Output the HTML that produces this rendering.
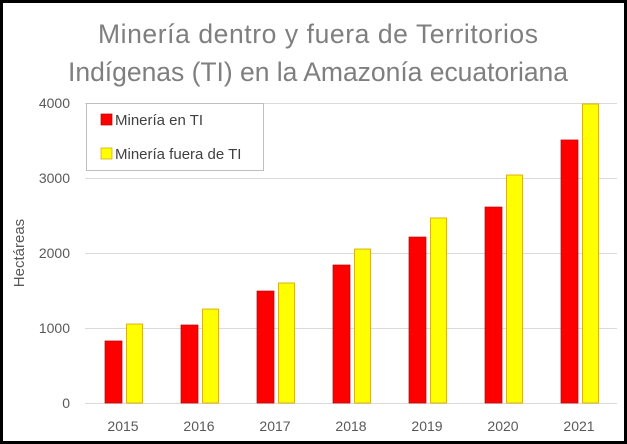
<!DOCTYPE html>
<html><head><meta charset="utf-8"><style>
body{margin:0;background:#fff}
svg{display:block;font-family:"Liberation Sans",sans-serif}
</style></head><body>
<svg id="c" width="627" height="444">
<rect x="1.5" y="1.5" width="624" height="441" fill="#fff" stroke="#000" stroke-width="3"/>
<text x="318" y="43" text-anchor="middle" font-size="26.5" fill="#7f7f7f" textLength="440">Minería dentro y fuera de Territorios</text>
<text x="318" y="81" text-anchor="middle" font-size="26.5" fill="#7f7f7f" textLength="500">Indígenas (TI) en la Amazonía ecuatoriana</text>
<text transform="translate(24,253) rotate(-90)" text-anchor="middle" font-size="15" fill="#595959">Hectáreas</text>
<g id="grid"></g><g id="bars"></g>
<g>
<rect x="86.5" y="103.5" width="177" height="67" fill="#fff" stroke="#bfbfbf"/>
<rect x="101" y="114" width="11" height="11" fill="#ff0000" stroke="#c00000" stroke-width="0.7"/>
<text x="115" y="125" font-size="15" fill="#404040">Minería en TI</text>
<rect x="101" y="148" width="11" height="11" fill="#ffff00" stroke="#d4a000" stroke-width="0.7"/>
<text x="115" y="159" font-size="15" fill="#404040">Minería fuera de TI</text>
</g>
</svg>
<script>
const years=["2015","2016","2017","2018","2019","2020","2021"];
const enTI=[827,1040,1493,1840,2213,2613,3507];
const fueraTI=[1053,1253,1600,2053,2467,3040,3987];
const yTicks=[0,1000,2000,3000,4000];
const NS="http://www.w3.org/2000/svg";
const x0=85,x1=617,y0=403,yTop=103,yMax=4000;
const step=(x1-x0)/years.length;
const y=v=>y0-(v/yMax)*(y0-yTop);
const xc=i=>x0+step*(i+0.5);
const grid=document.getElementById('grid'),bars=document.getElementById('bars');
function mk(t,a,p){const e=document.createElementNS(NS,t);for(const k in a)e.setAttribute(k,a[k]);p.appendChild(e);return e;}
yTicks.forEach(v=>{
 const l=mk('line',{x1:x0,x2:x1,y1:y(v)+0.5,y2:y(v)+0.5,stroke:'#d9d9d9'},grid);
 
 
 const t=mk('text',{x:70,y:y(v)+5,'text-anchor':'end','font-size':14,fill:'#595959'},grid);
 t.textContent=v;
 
 
});
years.forEach((yr,i)=>{
 const c=xc(i);
 const r=mk('rect',{x:c-18,y:y(enTI[i]),width:17,height:y0-y(enTI[i]),fill:'#ff0000',stroke:'#c00000','stroke-width':0.7},bars);
 
 
 const b=mk('rect',{x:c+3.5,y:y(fueraTI[i]),width:16,height:y0-y(fueraTI[i]),fill:'#ffff00',stroke:'#d4a000','stroke-width':0.8},bars);
 
 
 const t=mk('text',{x:c,y:431,'text-anchor':'middle','font-size':14,fill:'#595959'},bars);
 t.textContent=yr;
 
 
});
</script>
</body></html>
